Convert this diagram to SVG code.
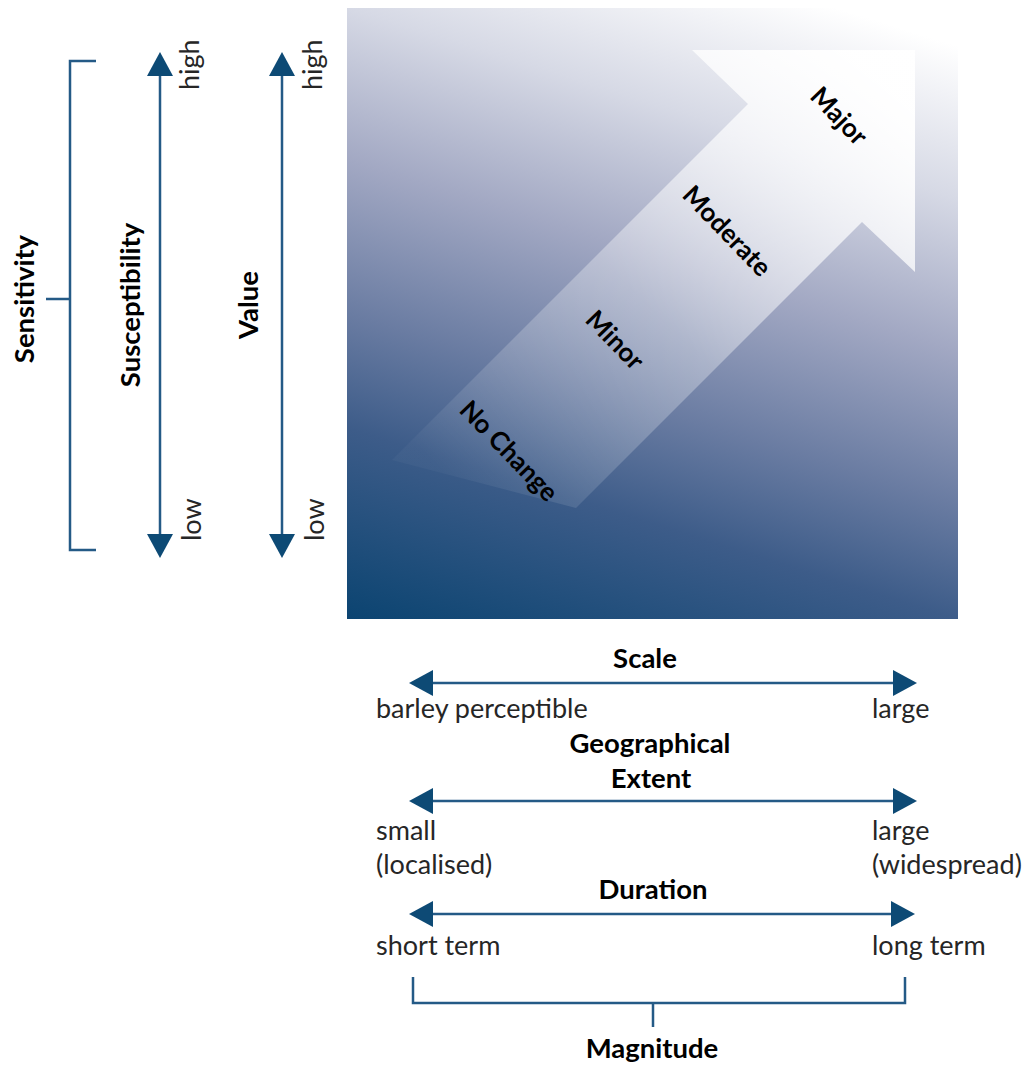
<svg xmlns="http://www.w3.org/2000/svg" width="1031" height="1066" viewBox="0 0 1031 1066">
  <style>
    .reg { font-family: Lato, "Open Sans", "Liberation Sans", sans-serif; font-size: 27px; fill: #262626; }
    .bold { font-family: Lato, "Open Sans", "Liberation Sans", sans-serif; font-size: 27.5px; font-weight: bold; fill: #000000; }
    .diag { font-family: Lato, "Open Sans", "Liberation Sans", sans-serif; font-size: 26px; font-weight: bold; fill: #000000; text-anchor: middle; }
    .mid { text-anchor: middle; }
    .line { stroke: #245a86; stroke-width: 2.5; fill: none; }
  </style>
  <defs>
    <marker id="head" viewBox="0 0 24 26" markerWidth="24" markerHeight="26" refX="0" refY="13" orient="auto-start-reverse" markerUnits="userSpaceOnUse">
      <path d="M0,0 L24,13 L0,26 Z" fill="#0d4a75"/>
    </marker>
    <linearGradient id="bg" gradientUnits="userSpaceOnUse" x1="347" y1="619" x2="565" y2="-77">
      <stop offset="0" stop-color="#0b4471"/>
      <stop offset="0.25" stop-color="#3d5c89"/>
      <stop offset="0.4" stop-color="#6a7ca2"/>
      <stop offset="0.6" stop-color="#a2a8c3"/>
      <stop offset="0.8" stop-color="#d6d9e5"/>
      <stop offset="1" stop-color="#ffffff"/>
    </linearGradient>
    <linearGradient id="arrowFill" gradientUnits="userSpaceOnUse" x1="470" y1="500" x2="880" y2="80">
      <stop offset="0" stop-color="#ffffff" stop-opacity="0.03"/>
      <stop offset="0.45" stop-color="#ffffff" stop-opacity="0.33"/>
      <stop offset="1" stop-color="#ffffff" stop-opacity="0.98"/>
    </linearGradient>
  </defs>

  <g id="impact-square">
    <rect x="347" y="8" width="611" height="611" fill="url(#bg)"/>
    <polygon points="392,460 748,104 692,50 915,50 915,272 862,222 576,508" fill="url(#arrowFill)"/>
    <text class="diag" transform="translate(839,116) rotate(46)" y="9">Major</text>
    <text class="diag" transform="translate(727,231) rotate(46)" y="9">Moderate</text>
    <text class="diag" transform="translate(615,340) rotate(46)" y="9">Minor</text>
    <text class="diag" transform="translate(509,451) rotate(46)" y="9">No Change</text>
  </g>

  <g id="connectors">
    <!-- Sensitivity bracket -->
    <path class="line" d="M96,61 H70 V550 H96 M70,299 H46"/>
    <!-- Susceptibility axis -->
    <line class="line" x1="160" y1="534" x2="160" y2="76" marker-start="url(#head)" marker-end="url(#head)"/>
    <!-- Value axis -->
    <line class="line" x1="282" y1="534" x2="282" y2="76" marker-start="url(#head)" marker-end="url(#head)"/>
    <!-- Scale axis -->
    <line class="line" x1="433" y1="683" x2="893" y2="683" marker-start="url(#head)" marker-end="url(#head)"/>
    <!-- Geographical extent axis -->
    <line class="line" x1="433" y1="801" x2="893" y2="801" marker-start="url(#head)" marker-end="url(#head)"/>
    <!-- Duration axis -->
    <line class="line" x1="433" y1="914" x2="891" y2="914" marker-start="url(#head)" marker-end="url(#head)"/>
    <!-- Magnitude bracket -->
    <path class="line" d="M413,977 V1003 H905 V977 M653,1003 V1027"/>
  </g>

  <g id="sensitivity">
    <text class="bold mid" transform="translate(34,299) rotate(-90)">Sensitivity</text>
  </g>
  <g id="susceptibility">
    <text class="bold mid" transform="translate(140,305) rotate(-90)">Susceptibility</text>
    <text class="reg" transform="translate(199,90) rotate(-90)">high</text>
    <text class="reg" transform="translate(201,541) rotate(-90)">low</text>
  </g>
  <g id="value">
    <text class="bold mid" transform="translate(258,305) rotate(-90)">Value</text>
    <text class="reg" transform="translate(322,90) rotate(-90)">high</text>
    <text class="reg" transform="translate(324,541) rotate(-90)">low</text>
  </g>

  <g id="scale">
    <text class="bold mid" x="645" y="668">Scale</text>
    <text class="reg" x="376" y="718">barley perceptible</text>
    <text class="reg" x="872" y="718">large</text>
  </g>
  <g id="geographical-extent">
    <text class="bold mid" x="650" y="753">Geographical</text>
    <text class="bold mid" x="651" y="788">Extent</text>
    <text class="reg" x="376" y="840">small</text>
    <text class="reg" x="376" y="874">(localised)</text>
    <text class="reg" x="872" y="840">large</text>
    <text class="reg" x="872" y="874">(widespread)</text>
  </g>
  <g id="duration">
    <text class="bold mid" x="653" y="899">Duration</text>
    <text class="reg" x="376" y="955">short term</text>
    <text class="reg" x="872" y="955">long term</text>
  </g>
  <g id="magnitude">
    <text class="bold mid" x="652" y="1058">Magnitude</text>
  </g>
</svg>
